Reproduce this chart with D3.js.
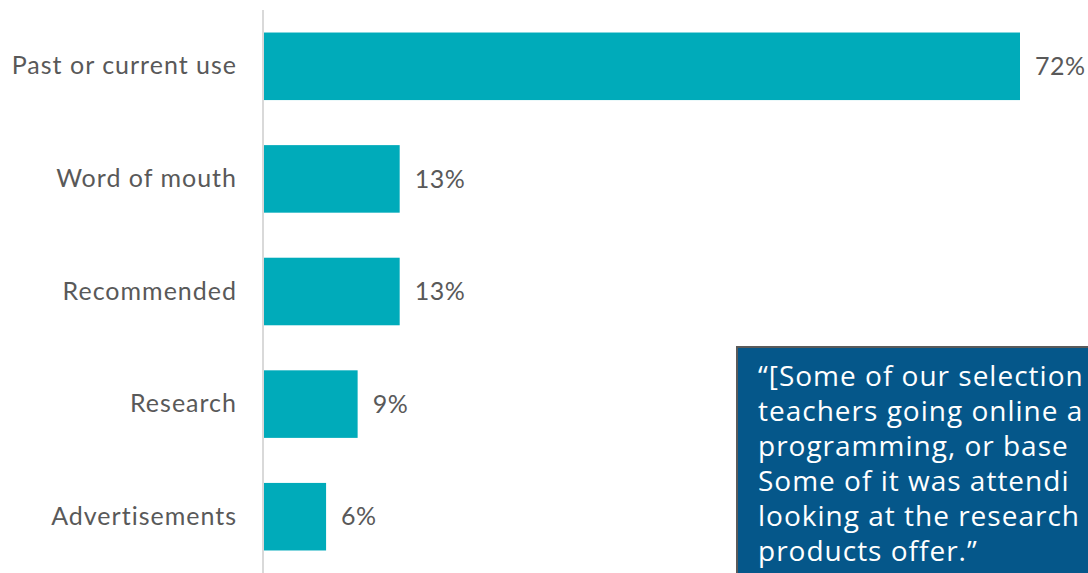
<!DOCTYPE html>
<html>
<head>
<meta charset="utf-8">
<script src="https://cdn.jsdelivr.net/npm/d3@7/dist/d3.min.js"></script>
<style>
  html, body { margin: 0; padding: 0; background: #fff; overflow: hidden; }
  svg { display: block; }
</style>
</head>
<body>
<script>
// Sources used when choosing a product (share of respondents, %)
const categories = ["Past or current use", "Word of mouth", "Recommended", "Research", "Advertisements"];
const values = [72, 13, 13, 9, 6];
const quoteLines = [
  "\u201C[Some of our selection",
  "teachers going online a",
  "programming, or base",
  "Some of it was attendi",
  "looking at the research",
  "products offer.\u201D"
];

const W = 1088, H = 573;
const svg = d3.select("body").append("svg").attr("width", W).attr("height", H);

const x0 = 263;
const x = d3.scaleLinear().domain([0, 72]).range([x0, 1020]);
const y = d3.scaleBand().domain(categories).range([10, 573]).paddingInner(0.4).paddingOuter(0.2);

const labelFont = "Lato, 'Open Sans', sans-serif";

// bars
svg.append("g").selectAll("rect")
  .data(categories)
  .join("rect")
  .attr("x", x(0))
  .attr("y", d => y(d))
  .attr("width", (d, i) => x(values[i]) - x(0))
  .attr("height", y.bandwidth())
  .attr("fill", "#00ABBA");

// vertical category axis
const yAxis = svg.append("g")
  .attr("transform", `translate(${x0},0)`)
  .call(d3.axisLeft(y).tickSize(0).tickPadding(26));
yAxis.select(".domain").remove();
svg.append("line")
  .attr("x1", x0).attr("x2", x0).attr("y1", 10).attr("y2", H)
  .attr("stroke", "#d9d9d9").attr("stroke-width", 2);
yAxis.selectAll("text")
  .attr("font-family", labelFont)
  .attr("font-size", 25)
  .attr("letter-spacing", 1)
  .attr("fill", "#595959");

// value labels
svg.append("g").selectAll("text")
  .data(categories)
  .join("text")
  .attr("x", (d, i) => x(values[i]) + 15)
  .attr("y", d => y(d) + y.bandwidth() / 2)
  .attr("dy", "0.35em")
  .attr("font-family", labelFont)
  .attr("font-size", 25)
  .attr("letter-spacing", 0.5)
  .attr("fill", "#595959")
  .text((d, i) => values[i] + "%");

// quote box
const qx = 737, qy = 347;
svg.append("rect")
  .attr("x", qx).attr("y", qy)
  .attr("width", W - qx + 10).attr("height", H - qy + 10)
  .attr("fill", "#05578A")
  .attr("stroke", "#5a5a5a").attr("stroke-width", 2);

svg.append("g").selectAll("text")
  .data(quoteLines)
  .join("text")
  .attr("x", 758)
  .attr("y", (d, i) => 386 + i * 35)
  .attr("font-family", "'Open Sans', sans-serif")
  .attr("font-size", 28)
  .attr("letter-spacing", 1)
  .attr("fill", "#ffffff")
  .text(d => d);
</script>
</body>
</html>
